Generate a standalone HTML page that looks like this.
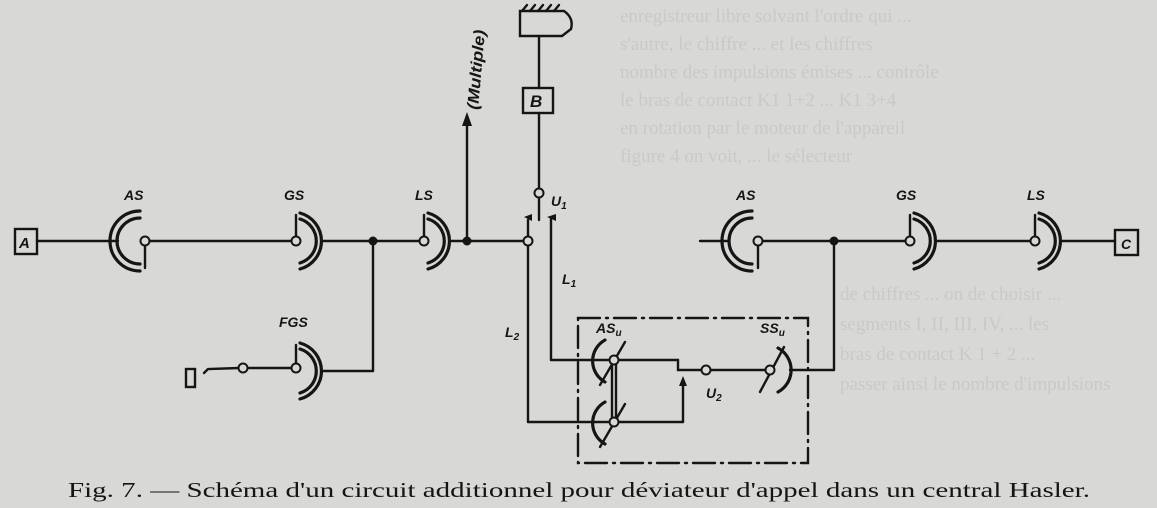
<!DOCTYPE html>
<html><head><meta charset="utf-8"><style>
html,body{margin:0;padding:0;background:#d8d8d6;}
svg{display:block}
</style></head><body>
<svg width="1157" height="508" viewBox="0 0 1157 508" xmlns="http://www.w3.org/2000/svg">
<rect width="1157" height="508" fill="#d8d8d6"/>
<g font-family="Liberation Serif, serif" font-size="19" fill="#c9c9c7">
<text x="620" y="22">enregistreur libre solvant l'ordre qui ...</text>
<text x="620" y="50">s'autre, le chiffre ... et les chiffres</text>
<text x="620" y="78">nombre des impulsions émises ... contrôle</text>
<text x="620" y="106">le bras de contact K1 1+2 ... K1 3+4</text>
<text x="620" y="134">en rotation par le moteur de l'appareil</text>
<text x="620" y="162">figure 4 on voit, ... le sélecteur</text>
<text x="840" y="300">de chiffres ... on de choisir ...</text>
<text x="840" y="330">segments I, II, III, IV, ... les</text>
<text x="840" y="360">bras de contact K 1 + 2 ...</text>
<text x="840" y="390">passer ainsi le nombre d'impulsions</text>
</g>
<g stroke="#151515" stroke-width="2.4" fill="none" stroke-linecap="round">
<rect x="15" y="229" width="22" height="25"/>
<line x1="37" y1="241" x2="118" y2="241"/>
<path d="M140,211 A30,30 0 0 0 140,271" stroke-width="3.2"/>
<path d="M140,218 A23,23 0 0 0 140,264" stroke-width="3.2"/>
<line x1="145" y1="241" x2="292" y2="241"/>
<line x1="145" y1="246" x2="145" y2="268"/>
<line x1="296" y1="236" x2="296" y2="215"/>
<path d="M300,213 A29,29 0 0 1 300,269" stroke-width="3.2"/>
<path d="M300,219 A23,23 0 0 1 300,263" stroke-width="3.2"/>
<line x1="323" y1="241" x2="420" y2="241"/>
<line x1="424" y1="236" x2="424" y2="215"/>
<path d="M428,213 A29,29 0 0 1 428,269" stroke-width="3.2"/>
<path d="M428,219 A23,23 0 0 1 428,263" stroke-width="3.2"/>
<line x1="451" y1="241" x2="524" y2="241"/>
<line x1="373" y1="241" x2="373" y2="371"/>
<line x1="373" y1="371" x2="323" y2="371"/>
<line x1="296" y1="364" x2="296" y2="345"/>
<path d="M300,343 A29,29 0 0 1 300,399" stroke-width="3.2"/>
<path d="M300,349 A23,23 0 0 1 300,393" stroke-width="3.2"/>
<line x1="247" y1="368" x2="292" y2="368"/>
<path d="M239,368 L208,369 L204,373"/>
<rect x="186" y="369" width="9" height="18"/>
<line x1="467" y1="241" x2="467" y2="122"/>
<line x1="539" y1="37" x2="539" y2="88"/>
<rect x="523" y="88" width="30" height="25"/>
<line x1="539" y1="113" x2="539" y2="189"/>
<line x1="539" y1="197" x2="539" y2="220"/>
<path d="M520,11 L564,11 Q574,18 571,29 L562,36 L520,36 Z"/>
<path d="M522,11 l5,-6 M530,11 l5,-6 M538,11 l5,-6 M546,11 l5,-6 M554,11 l5,-6"/>
<line x1="528" y1="220" x2="528" y2="237"/>
<line x1="528" y1="246" x2="528" y2="422"/>
<line x1="528" y1="422" x2="608" y2="422"/>
<line x1="551" y1="218" x2="551" y2="360"/>
<line x1="551" y1="360" x2="608" y2="360"/>
<path d="M605,340 A24,24 0 0 0 605,382" stroke-width="3.2"/>
<path d="M605,402 A24,24 0 0 0 605,444" stroke-width="3.2"/>
<line x1="600" y1="385" x2="625" y2="342"/>
<line x1="600" y1="447" x2="625" y2="404"/>
<line x1="612" y1="364" x2="612" y2="418"/>
<line x1="616" y1="364" x2="616" y2="418"/>
<line x1="616" y1="360" x2="678" y2="360"/>
<path d="M678,360 L678,370 L702,370"/>
<line x1="616" y1="422" x2="683" y2="422"/>
<line x1="683" y1="422" x2="683" y2="382"/>
<line x1="710" y1="370" x2="766" y2="370"/>
<path d="M778,348 A25,25 0 0 1 778,392" stroke-width="3.2"/>
<line x1="760" y1="392" x2="784" y2="347"/>
<line x1="790" y1="370" x2="834" y2="370"/>
<line x1="834" y1="370" x2="834" y2="241"/>
<path d="M752,211 A30,30 0 0 0 752,271" stroke-width="3.2"/>
<path d="M752,218 A23,23 0 0 0 752,264" stroke-width="3.2"/>
<line x1="700" y1="241" x2="729" y2="241"/>
<line x1="762" y1="241" x2="906" y2="241"/>
<line x1="758" y1="246" x2="758" y2="268"/>
<line x1="910" y1="236" x2="910" y2="215"/>
<path d="M914,213 A29,29 0 0 1 914,269" stroke-width="3.2"/>
<path d="M914,219 A23,23 0 0 1 914,263" stroke-width="3.2"/>
<line x1="937" y1="241" x2="1031" y2="241"/>
<line x1="1035" y1="236" x2="1035" y2="215"/>
<path d="M1039,213 A29,29 0 0 1 1039,269" stroke-width="3.2"/>
<path d="M1039,219 A23,23 0 0 1 1039,263" stroke-width="3.2"/>
<line x1="1062" y1="241" x2="1115" y2="241"/>
<rect x="1115" y="230" width="23" height="25"/>
<rect x="578" y="318" width="230" height="145" stroke-dasharray="22,6,2,6"/>
</g>
<g fill="#151515">
<circle cx="373" cy="241" r="4.5"/><circle cx="467" cy="241" r="4.5"/><circle cx="834" cy="241" r="4.5"/>
<path d="M467,112 L462,126 L472,126 Z"/>
<path d="M683,376 L679,386 L687,386 Z"/>
<path d="M524,217 L532,214 L532,221 Z"/>
<path d="M556,214 L547,217 L556,221 Z"/>
</g>
<g fill="#d8d8d6" stroke="#151515" stroke-width="2">
<circle cx="145" cy="241" r="4.5"/><circle cx="296" cy="241" r="4.5"/><circle cx="424" cy="241" r="4.5"/>
<circle cx="528" cy="241" r="4.5"/><circle cx="539" cy="193" r="4.5"/>
<circle cx="296" cy="368" r="4.5"/><circle cx="243" cy="368" r="4.5"/>
<circle cx="614" cy="360" r="4.5"/><circle cx="614" cy="422" r="4.5"/>
<circle cx="706" cy="370" r="4.5"/><circle cx="770" cy="370" r="4.5"/>
<circle cx="758" cy="241" r="4.5"/><circle cx="910" cy="241" r="4.5"/><circle cx="1035" cy="241" r="4.5"/>
</g>
<g font-family="Liberation Sans, sans-serif" font-style="italic" font-weight="bold" font-size="14" fill="#151515">
<text x="19" y="248" font-size="15">A</text>
<text x="530" y="107" font-size="17">B</text>
<text x="1121" y="249" font-size="14">C</text>
<text x="124" y="200">AS</text><text x="284" y="200">GS</text><text x="415" y="200">LS</text>
<text x="279" y="327">FGS</text>
<text x="551" y="206">U<tspan font-size="10" dy="3">1</tspan></text>
<text x="562" y="284">L<tspan font-size="10" dy="3">1</tspan></text>
<text x="505" y="337">L<tspan font-size="10" dy="3">2</tspan></text>
<text x="596" y="333">AS<tspan font-size="10" dy="3">u</tspan></text>
<text x="760" y="333">SS<tspan font-size="10" dy="3">u</tspan></text>
<text x="706" y="398">U<tspan font-size="10" dy="3">2</tspan></text>
<text x="736" y="200">AS</text><text x="896" y="200">GS</text><text x="1027" y="200">LS</text>
<text transform="translate(478,110) rotate(-85)" font-size="16" textLength="80" lengthAdjust="spacingAndGlyphs">(Multiple)</text>
</g>
<text x="68" y="497" font-family="Liberation Serif, serif" font-size="21" fill="#151515" textLength="1022" lengthAdjust="spacingAndGlyphs">Fig. 7. — Schéma d'un circuit additionnel pour déviateur d'appel dans un central Hasler.</text>
</svg>
</body></html>
